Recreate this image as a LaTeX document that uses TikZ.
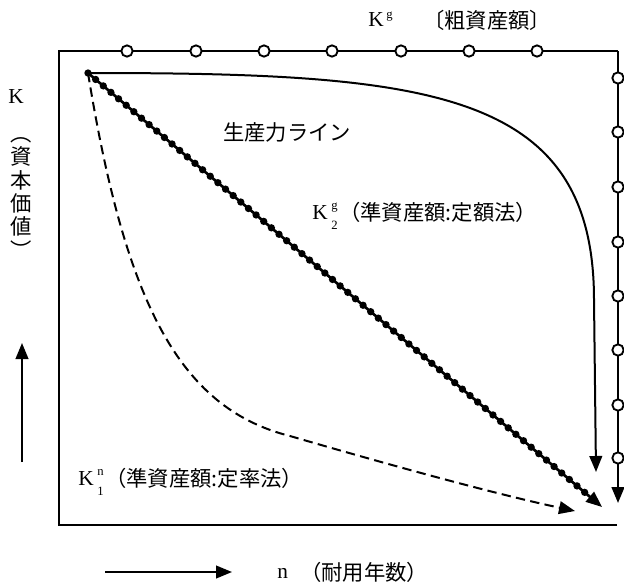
\documentclass[tikz,border=0pt]{standalone}
\usepackage{fontspec}
\setmainfont{Liberation Serif}
\newfontfamily\jp{Noto Sans CJK JP}
\usetikzlibrary{arrows.meta}
\tikzset{
  lbl/.style={inner sep=0pt, font=\fontsize{16}{17.5}\selectfont},
  jlbl/.style={inner sep=0pt, font=\jp\fontsize{16}{17.5}\selectfont},
  sml/.style={inner sep=0pt, font=\fontsize{9.5}{10}\selectfont},
  frame/.style={line width=1.8pt},
  ring/.style={circle, draw, fill=white, line width=1.4pt, minimum size=8.5pt, inner sep=0pt},
  curve/.style={line width=1.5pt},
  tip/.style={-{Triangle[length=12pt,width=9.5pt]}},
}
\begin{document}
\begin{tikzpicture}[x=0.75pt,y=-0.75pt]
\useasboundingbox (0,0) rectangle (624,582);
% frame
\coordinate (bl) at (59,525);
\coordinate (tl) at (59,51);
\coordinate (tr) at (618,51);
\coordinate (br) at (617,525);
\coordinate (rend) at (618,503);
\draw[frame] (br) -- (bl) -- (tl) -- (tr);
\draw[frame, tip] (tr) -- (rend);
\foreach \x [count=\i] in {127,196,264,332,401,469,537}
  \node[ring] (t\i) at (\x,51) {};
\foreach \y [count=\i] in {78,132,187,242,296,350,405,458}
  \node[ring] (r\i) at (618,\y) {};
% origin of curves
\coordinate (o) at (88,73);
\coordinate (e1) at (596,472);
\coordinate (e2) at (602,507);
\coordinate (e3) at (575,511);
% productive capacity line
\draw[curve, tip] (o) .. controls (430,73) and (594,90) .. (594,300) -- (e1);
% straight-line (beaded)
\draw[line width=2pt, tip] (o) -- (e2);
\draw[line width=5.5pt, line cap=round, dash pattern=on 0pt off 7.5pt, shorten >=15pt] (o) -- (e2);
% declining balance (dashed)
\draw[curve, dash pattern=on 7pt off 4pt, tip] (o) .. controls (125,300) and (178,408) .. (290,436) .. controls (400,468) and (500,495) .. (e3);
% labels
\node[lbl, anchor=base west] (kg) at (368,26) {K};
\node[sml, anchor=base west] (kgs) at (386,18) {g};
\node[jlbl] (kgj) at (487,20) {〔粗資産額〕};
\node[lbl] (k) at (16,97) {K};
\node[jlbl, align=center] (kv) at (21,198) {︵\\資\\本\\価\\値\\︶};
\node[jlbl, anchor=west] (sl) at (223,132) {生産力ライン};
\node[lbl, anchor=base west] (k2) at (312,219) {K};
\node[sml, anchor=base west] (k2s) at (331,209) {g};
\node[sml, anchor=base west] (k2b) at (331,229) {2};
\node[jlbl, anchor=west] (k2j) at (339,212) {（準資産額:定額法）};
\node[lbl, anchor=base west] (k1) at (78,485) {K};
\node[sml, anchor=base west] (k1s) at (97,475) {n};
\node[sml, anchor=base west] (k1b) at (97,495) {1};
\node[jlbl, anchor=west] (k1j) at (105,478) {（準資産額:定率法）};
\node[lbl, anchor=base west] (nn) at (277,578) {n};
\node[jlbl, anchor=west] (nj) at (300,572) {（耐用年数）};
% axis arrows
\coordinate (ya) at (22,462);
\coordinate (yb) at (22,343);
\coordinate (xa) at (105,572);
\coordinate (xb) at (232,572);
\draw[line width=1.5pt, tip] (ya) -- (yb);
\draw[line width=1.5pt, tip] (xa) -- (xb);
\end{tikzpicture}
\end{document}
